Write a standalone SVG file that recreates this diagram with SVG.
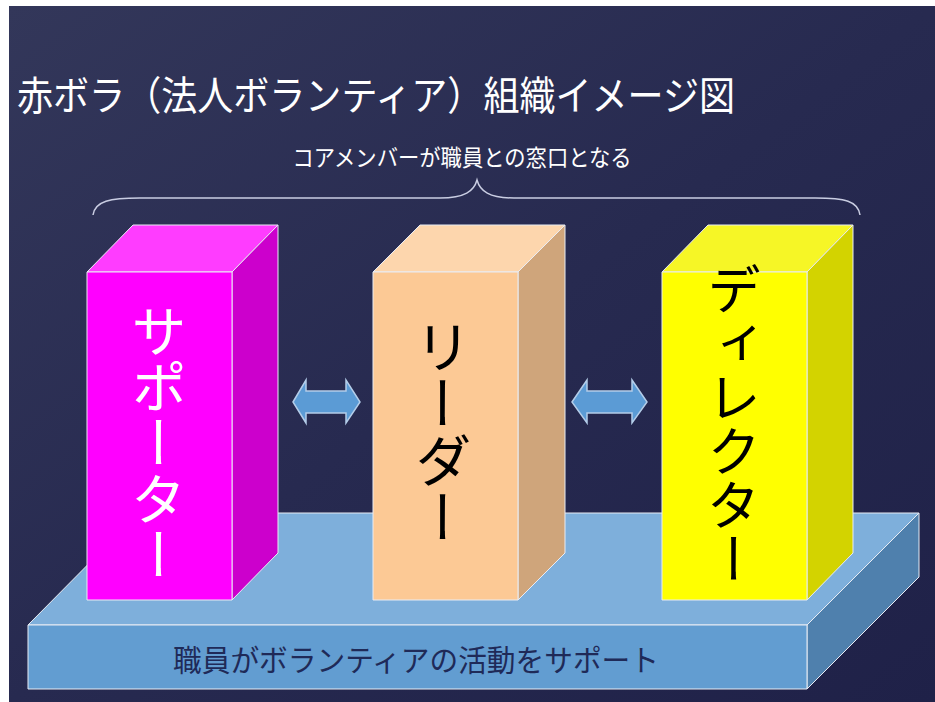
<svg xmlns="http://www.w3.org/2000/svg" width="935" height="702" viewBox="0 0 935 702">
  <defs>
    <linearGradient id="bg" x1="0" y1="0" x2="1" y2="1">
      <stop offset="0" stop-color="#33375a"/>
      <stop offset="0.5" stop-color="#272a50"/>
      <stop offset="1" stop-color="#1f2148"/>
    </linearGradient>
    <style>
      .edge { stroke: #e8ecf4; stroke-width: 1; stroke-linejoin: round; }
      .jp { font-family: "Noto Sans CJK JP", "Noto Sans", sans-serif; }
      .vert { writing-mode: vertical-rl; text-anchor: middle; }
      .arrow { fill: #5b9bd5; stroke: #b4cde9; stroke-width: 1.5; stroke-linejoin: miter; }
    </style>
  </defs>

  <rect x="0" y="0" width="935" height="702" fill="#ffffff"/>
  <rect x="9" y="6" width="926" height="696" fill="url(#bg)"/>

  <g id="title">
    <text class="jp" x="17" y="110" font-size="40" fill="#ffffff" textLength="718" lengthAdjust="spacingAndGlyphs">赤ボラ（法人ボランティア）組織イメージ図</text>
  </g>

  <g id="core-label">
    <text class="jp" x="462" y="166" font-size="23" fill="#ffffff" text-anchor="middle" textLength="339" lengthAdjust="spacingAndGlyphs">コアメンバーが職員との窓口となる</text>
    <path d="M93,215 C95,201 110,198 140,198 L440,198 C465,198 474,191 477,180 C480,191 489,198 514,198 L815,198 C845,198 858,201 860,215" fill="none" stroke="#c9cde2" stroke-width="1.5"/>
  </g>

  <g id="platform">
    <polygon class="edge" points="28,625 139,513 919,513 807,625" fill="#7eafdb"/>
    <polygon class="edge" points="807,625 919,513 919,577 807,689" fill="#4f80ad"/>
    <rect class="edge" x="28" y="625" width="779" height="64" fill="#629dd1"/>
    <text class="jp" x="416" y="658" font-size="30" fill="#1f2a58" text-anchor="middle" dominant-baseline="central" textLength="486" lengthAdjust="spacingAndGlyphs">職員がボランティアの活動をサポート</text>
  </g>

  <g id="supporter">
    <polygon class="edge" points="87,272 133,225 278,225 232,272" fill="#ff3cff"/>
    <polygon class="edge" points="232,272 278,225 278,553 232,600" fill="#cc00cc"/>
    <rect class="edge" x="87" y="272" width="145" height="328" fill="#ff00ff"/>
    <text class="jp vert" x="159" y="443" font-size="56" fill="#ffffff">サポーター</text>
  </g>

  <g id="leader">
    <polygon class="edge" points="373,272 420,225 565,225 518,272" fill="#fdd6ad"/>
    <polygon class="edge" points="518,272 565,225 565,553 518,600" fill="#cfa57b"/>
    <rect class="edge" x="373" y="272" width="145" height="328" fill="#fcc995"/>
    <text class="jp vert" x="443" y="432" font-size="57" fill="#000000">リーダー</text>
  </g>

  <g id="director">
    <polygon class="edge" points="662,272 708,225 853,225 807,272" fill="#f6f626"/>
    <polygon class="edge" points="807,272 853,225 853,553 807,600" fill="#d3d300"/>
    <rect class="edge" x="662" y="272" width="145" height="328" fill="#ffff00"/>
    <text class="jp vert" x="734" y="424" font-size="54" fill="#000000">ディレクター</text>
  </g>

  <g id="connectors">
    <polygon class="arrow" points="293,402 306,380 306,391 346,391 346,380 360,402 346,423 346,413 306,413 306,423"/>
    <polygon class="arrow" points="572,402 587,380 587,391 632,391 632,380 647,402 632,423 632,413 587,413 587,423"/>
  </g>
</svg>
